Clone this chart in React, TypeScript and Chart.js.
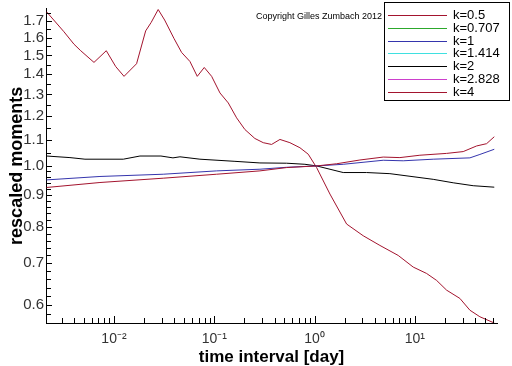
import { useEffect, useRef } from "react";
import { Chart, registerables } from "chart.js";

Chart.register(...registerables);

// ---- data (time interval in days, rescaled moment) ----
const k05X = [0.00213, 0.00725, 0.031, 0.1056, 0.2855, 0.527, 1.049, 1.661, 2.835, 4.84, 7.1, 11.24, 20.75, 30.37, 41.31, 51.97, 62];
const k05Y = [0.924, 0.941, 0.956, 0.97, 0.982, 0.994, 1.0, 1.008, 1.022, 1.033, 1.031, 1.04, 1.047, 1.054, 1.076, 1.085, 1.113];

const k0707X: number[] = [];
const k0707Y: number[] = [];

const k1X = [0.00213, 0.00725, 0.031, 0.1056, 0.2855, 0.527, 1.049, 1.932, 4.84, 7.66, 15.26, 35.42, 44.57, 62];
const k1Y = [0.95, 0.962, 0.97, 0.982, 0.988, 0.995, 1.0, 1.006, 1.021, 1.019, 1.025, 1.03, 1.043, 1.063];

const k1414X: number[] = [];
const k1414Y: number[] = [];

const k2X = [0.00213, 0.00364, 0.00514, 0.01238, 0.01816, 0.02942, 0.03875, 0.0455, 0.072, 0.1608, 0.2855, 0.527, 0.802, 1.049, 1.932, 3.307, 5.646, 15.26, 24.14, 38.21, 62];
const k2Y = [1.037, 1.031, 1.025, 1.025, 1.037, 1.037, 1.03, 1.034, 1.025, 1.017, 1.011, 1.01, 1.006, 1.0, 0.976, 0.976, 0.972, 0.952, 0.94, 0.93, 0.925];

const k2828X: number[] = [];
const k2828Y: number[] = [];

const k4X = [0.00213, 0.00317, 0.00399, 0.00466, 0.00632, 0.00838, 0.0104, 0.0126, 0.0168, 0.0207, 0.0235, 0.0276, 0.032, 0.0396, 0.0473, 0.0572, 0.0677, 0.0795, 0.0942, 0.114, 0.138, 0.167, 0.202, 0.254, 0.308, 0.373, 0.452, 0.568, 0.715, 0.865, 1.049, 1.424, 2.089, 3.059, 4.487, 6.833, 9.638, 13.11, 16.5, 20.75, 28.16, 35.42, 44.57, 62];
const k4Y = [1.76, 1.636, 1.563, 1.526, 1.462, 1.526, 1.44, 1.389, 1.455, 1.641, 1.693, 1.775, 1.708, 1.597, 1.516, 1.467, 1.389, 1.435, 1.389, 1.307, 1.26, 1.193, 1.143, 1.106, 1.089, 1.082, 1.102, 1.089, 1.069, 1.044, 0.994, 0.902, 0.808, 0.774, 0.747, 0.72, 0.69, 0.674, 0.657, 0.634, 0.615, 0.589, 0.575, 0.562];

const seriesLabels = ["k=0.5", "k=0.707", "k=1", "k=1.414", "k=2", "k=2.828", "k=4"];
const seriesColors = ["#a3142e", "#2ca82c", "#3535ad", "#3fe0e0", "#000000", "#cc3fcc", "#a3142e"];
const seriesX = [k05X, k0707X, k1X, k1414X, k2X, k2828X, k4X];
const seriesY = [k05Y, k0707Y, k1Y, k1414Y, k2Y, k2828Y, k4Y];

// ---- axes ----
const xMin = 0.0021;
const xMax = 66;
const yMin = 0.562;
const yMax = 1.78;

const xMajorTicks = [0.01, 0.1, 1, 10];
const xTickLabels = ["10\u207B\u00B2", "10\u207B\u00B9", "10\u2070", "10\u00B9"];
const yMajorTicks = [0.6, 0.7, 0.8, 0.9, 1.0, 1.1, 1.2, 1.3, 1.4, 1.5, 1.6, 1.7];
const yTickLabels = ["0.6", "0.7", "0.8", "0.9", "1.0", "1.1", "1.2", "1.3", "1.4", "1.5", "1.6", "1.7"];

const xTitle = "time interval [day]";
const yTitle = "rescaled moments";
const copyright = "Copyright Gilles Zumbach 2012";

function buildXTicks(): number[] {
  const out: number[] = [];
  for (let e = -3; e <= 1; e++) {
    for (let m = 1; m <= 9; m++) {
      const v = m * Math.pow(10, e);
      if (v >= xMin && v <= xMax) out.push(v);
    }
  }
  return out;
}
function buildYTicks(): number[] {
  const out: number[] = [];
  for (let i = 28; i <= 50; i++) {
    const v = i / 50;
    if (v >= yMin && v <= yMax) out.push(v);
  }
  for (let i = 21; i <= 36; i++) {
    const v = i / 20;
    if (v >= yMin && v <= yMax) out.push(v);
  }
  return out;
}
function labelFor(v: number, majors: number[], labels: string[]): string {
  for (let i = 0; i < majors.length; i++) {
    if (Math.abs(v - majors[i]) / majors[i] < 1e-6) return labels[i];
  }
  return "";
}
function isMajor(v: number, majors: number[]) {
  return majors.some((m) => Math.abs(v - m) / m < 1e-6);
}

const FONT = "'Liberation Sans', Arial, Helvetica, sans-serif";

const decorPlugin = {
  id: "decor",
  afterDraw(chart: any) {
    const ctx = chart.ctx as CanvasRenderingContext2D;
    const xs = chart.scales.x;
    const ys = chart.scales.y;
    const area = chart.chartArea;
    ctx.save();
    ctx.strokeStyle = "#000";
    ctx.lineWidth = 1;
    ctx.beginPath();
    for (const t of xs.ticks) {
      const px = Math.round(xs.getPixelForValue(t.value)) + 0.5;
      const len = isMajor(t.value, xMajorTicks) ? 7 : 5;
      ctx.moveTo(px, area.bottom);
      ctx.lineTo(px, area.bottom - len);
    }
    for (const t of ys.ticks) {
      const py = Math.round(ys.getPixelForValue(t.value)) + 0.5;
      const len = isMajor(t.value, yMajorTicks) ? 6 : 5;
      ctx.moveTo(area.left, py);
      ctx.lineTo(area.left + len, py);
    }
    ctx.stroke();

    // copyright
    ctx.fillStyle = "#000";
    ctx.font = `9px ${FONT}`;
    ctx.textBaseline = "middle";
    ctx.textAlign = "left";
    ctx.fillText(copyright, 256, 17);

    // legend box
    const bx = 384.5, by = 2.5, bw = 125, bh = 98;
    ctx.fillStyle = "#fff";
    ctx.fillRect(bx, by, bw, bh);
    ctx.strokeStyle = "#000";
    ctx.strokeRect(bx, by, bw, bh);
    ctx.font = `13px ${FONT}`;
    chart.data.datasets.forEach((ds: any, i: number) => {
      const y = Math.round(15 + i * 12.8) + 0.5;
      ctx.strokeStyle = ds.borderColor;
      ctx.beginPath();
      ctx.moveTo(388, y);
      ctx.lineTo(447, y);
      ctx.stroke();
      ctx.fillStyle = "#000";
      ctx.fillText(ds.label, 453, y);
    });
    ctx.restore();
  },
};

export default function App() {
  const ref = useRef<HTMLCanvasElement | null>(null);
  useEffect(() => {
    if (!ref.current) return;
    const datasets = seriesLabels.map((label, i) => ({
      label,
      data: seriesX[i].map((x, j) => ({ x, y: seriesY[i][j] })),
      borderColor: seriesColors[i],
      backgroundColor: seriesColors[i],
      borderWidth: 1,
      pointRadius: 0,
      tension: 0,
      fill: false,
    }));
    const chart = new Chart(ref.current, {
      type: "line",
      data: { datasets },
      plugins: [decorPlugin],
      options: {
        animation: false,
        responsive: false,
        devicePixelRatio: 1,
        parsing: false as any,
        layout: { padding: { top: 8, right: 15, bottom: 0, left: 0 } },
        plugins: { legend: { display: false }, tooltip: { enabled: false } },
        scales: {
          x: {
            type: "logarithmic",
            position: "bottom",
            min: xMin,
            max: xMax,
            afterBuildTicks: (s: any) => {
              s.ticks = buildXTicks().map((v) => ({ value: v }));
            },
            afterFit: (s: any) => {
              s.height = 43;
            },
            grid: { display: false, drawTicks: false },
            border: { display: true, color: "#000", width: 1 },
            ticks: {
              autoSkip: false,
              maxRotation: 0,
              padding: 9,
              color: "#333",
              font: { family: FONT, size: 14, lineHeight: 1 },
              callback: (v: any) => labelFor(Number(v), xMajorTicks, xTickLabels),
            },
            title: {
              display: true,
              text: xTitle,
              color: "#000",
              font: { family: FONT, size: 17, weight: "bold", lineHeight: 1 },
              padding: { top: 0, bottom: 0 },
            },
          },
          y: {
            type: "logarithmic",
            position: "left",
            min: yMin,
            max: yMax,
            afterBuildTicks: (s: any) => {
              s.ticks = buildYTicks().map((v) => ({ value: v }));
            },
            afterFit: (s: any) => {
              s.width = 46;
            },
            grid: { display: false, drawTicks: false },
            border: { display: true, color: "#000", width: 1 },
            ticks: {
              autoSkip: false,
              padding: 2,
              color: "#333",
              font: { family: FONT, size: 15, lineHeight: 0.9 },
              callback: (v: any) => labelFor(Number(v), yMajorTicks, yTickLabels),
            },
            title: {
              display: true,
              text: yTitle,
              color: "#000",
              font: { family: FONT, size: 18, weight: "bold", lineHeight: 1.2 },
              padding: { top: 6, bottom: 0 },
            },
          },
        },
      } as any,
    });
    return () => chart.destroy();
  }, []);
  return (
    <div style={{ position: "fixed", left: 0, top: 0, width: 512, height: 366, background: "#fff" }}>
      <canvas ref={ref} width={512} height={366} />
    </div>
  );
}
